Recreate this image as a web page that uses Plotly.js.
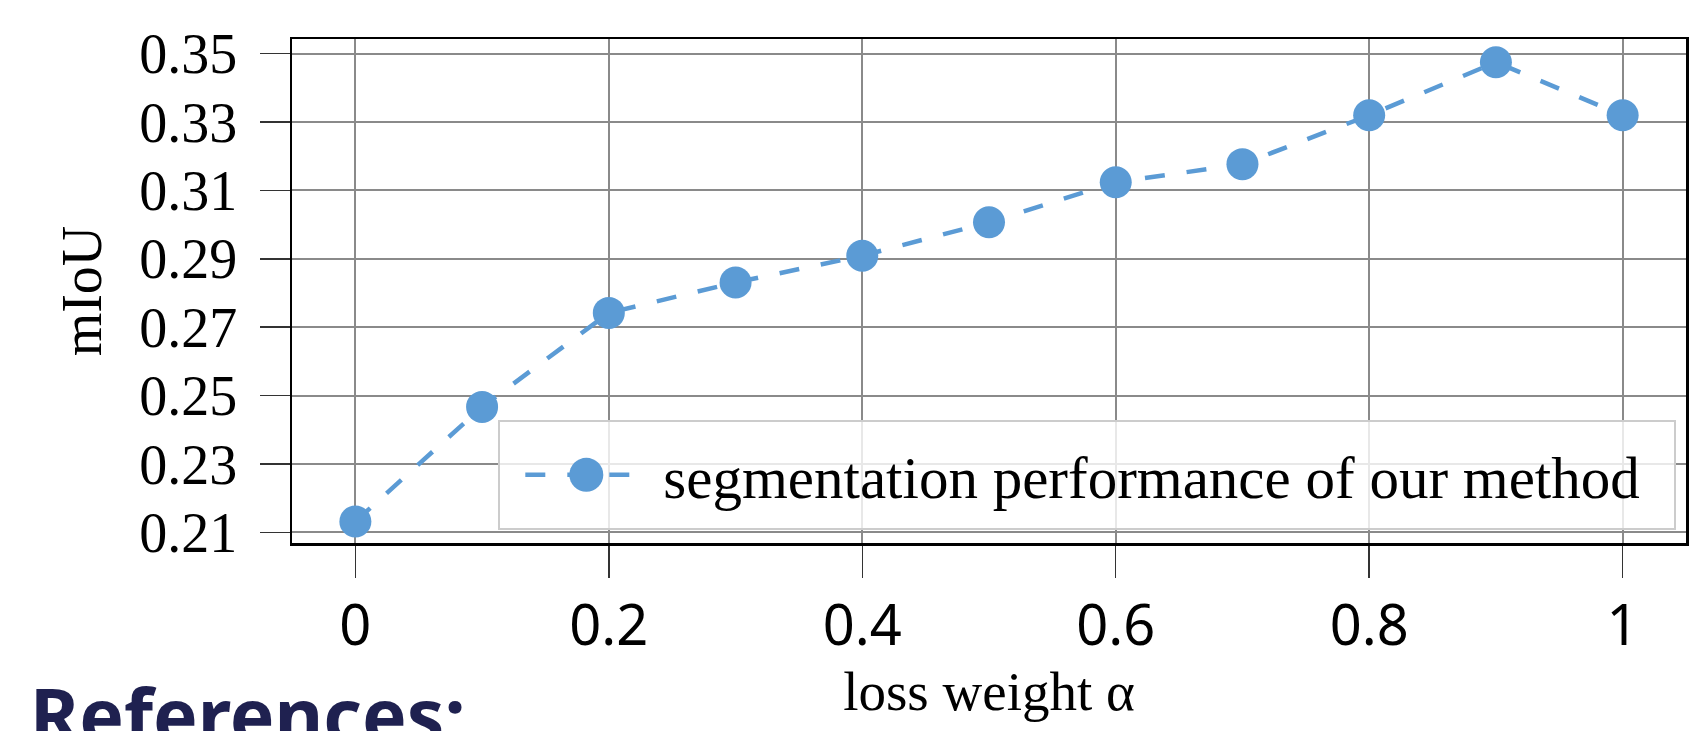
<!DOCTYPE html>
<html>
<head>
<meta charset="utf-8">
<script src="https://cdn.plot.ly/plotly-3.0.1.min.js"></script>
<style>
  html, body { margin: 0; padding: 0; background: #ffffff; }
  #chart { width: 1689px; height: 731px; }
</style>
</head>
<body>
<div id="chart"></div>
<script>
// ---- data ----
const lossWeight = [0, 0.1, 0.2, 0.3, 0.4, 0.5, 0.6, 0.7, 0.8, 0.9, 1.0];
const mIoU = [0.2132, 0.2467, 0.2742, 0.2831, 0.2909, 0.3007, 0.3124, 0.3177, 0.3320, 0.3475, 0.3320];
const seriesName = 'segmentation performance of our method';
const xTickVals = [0, 0.2, 0.4, 0.6, 0.8, 1];
const xTickText = ['0', '0.2', '0.4', '0.6', '0.8', '1'];
const yTickVals = [0.21, 0.23, 0.25, 0.27, 0.29, 0.31, 0.33, 0.35];
const yTickText = ['0.21', '0.23', '0.25', '0.27', '0.29', '0.31', '0.33', '0.35'];
const xTitle = 'loss weight α';
const yTitle = 'mIoU';
const footerText = 'References:';

const blue = '#5b9bd5';
const serif = 'Liberation Serif, Times New Roman, serif';

const data = [{
  type: 'scatter',
  mode: 'lines+markers',
  x: lossWeight,
  y: mIoU,
  name: seriesName + '<span style="font-size:58px">\u00a0\u00a0</span>',
  showlegend: true,
  line: { color: blue, width: 4.5, dash: '20px,22px' },
  marker: { color: blue, size: 32 }
}];

const layout = {
  width: 1689,
  height: 731,
  paper_bgcolor: '#ffffff',
  plot_bgcolor: '#ffffff',
  margin: { l: 292, r: 3, t: 39, b: 188, pad: 0, autoexpand: false },
  showlegend: true,
  xaxis: {
    range: [-0.05, 1.05],
    tickvals: xTickVals,
    ticktext: xTickText,
    ticks: 'outside',
    ticklen: 32,
    tickwidth: 1.5,
    tickcolor: '#333333',
    tickfont: { family: 'Noto Sans, DejaVu Sans, sans-serif', size: 56, color: '#000000' },
    showgrid: true,
    gridcolor: '#8a8a8a',
    gridwidth: 2,
    zeroline: false,
    showline: true,
    linecolor: '#000000',
    linewidth: 2.5,
    mirror: true,
    title: { text: xTitle, font: { family: serif, size: 55, color: '#000000' }, standoff: 12 }
  },
  yaxis: {
    range: [0.2069, 0.3543],
    tickvals: yTickVals,
    ticktext: yTickText,
    ticks: 'outside',
    ticklen: 30,
    tickwidth: 1.5,
    tickcolor: '#333333',
    ticklabelstandoff: 11,
    tickfont: { family: serif, size: 56, color: '#000000' },
    showgrid: true,
    gridcolor: '#8a8a8a',
    gridwidth: 2,
    zeroline: false,
    showline: true,
    linecolor: '#000000',
    linewidth: 2.5,
    mirror: true,
    title: { text: yTitle, font: { family: serif, size: 56, color: '#000000' }, standoff: 20 }
  },
  legend: {
    x: 0.148,
    y: 0.2282,
    xanchor: 'left',
    yanchor: 'top',
    bgcolor: 'rgba(255,255,255,0.8)',
    bordercolor: '#cccccc',
    borderwidth: 2,
    itemwidth: 153,
    font: { family: serif, size: 59, color: '#000000' }
  },
  annotations: [{
    text: footerText,
    xref: 'paper',
    yref: 'paper',
    x: -0.1895,
    y: -0.2335,
    xanchor: 'left',
    yanchor: 'top',
    showarrow: false,
    font: { family: 'Noto Sans, Open Sans, sans-serif', size: 75, color: '#1f2150', weight: 'bold' }
  }]
};

Plotly.newPlot('chart', data, layout, { staticPlot: true, displayModeBar: false }).then(function (gd) {
  const pts = gd.querySelector('.legend .legendpoints path.scatterpts');
  const ln = gd.querySelector('.legend .legendlines path.js-line');
  const bg = gd.querySelector('.legend rect.bg');
  let c = 20;
  if (pts) {
    const t = pts.getAttribute('transform') || '';
    const m = t.match(/translate\(([-\d.]+)/);
    if (m) c = parseFloat(m[1]);
    c += 4.5;
    pts.setAttribute('transform', 'translate(' + c + ',0)');
    const r = 17;
    pts.setAttribute('d', 'M' + r + ',0A' + r + ',' + r + ' 0 1,1 0,-' + r + 'A' + r + ',' + r + ' 0 0,1 ' + r + ',0Z');
  }
  if (ln) {
    ln.setAttribute('d', 'M' + (c - 61) + ',0h107');
  }
  if (bg) {
    const y0 = parseFloat(bg.getAttribute('y') || '0');
    const h0 = parseFloat(bg.getAttribute('height') || '0');
    bg.setAttribute('y', y0 - 8);
    bg.setAttribute('height', h0 + 16);
  }
});
</script>
</body>
</html>
